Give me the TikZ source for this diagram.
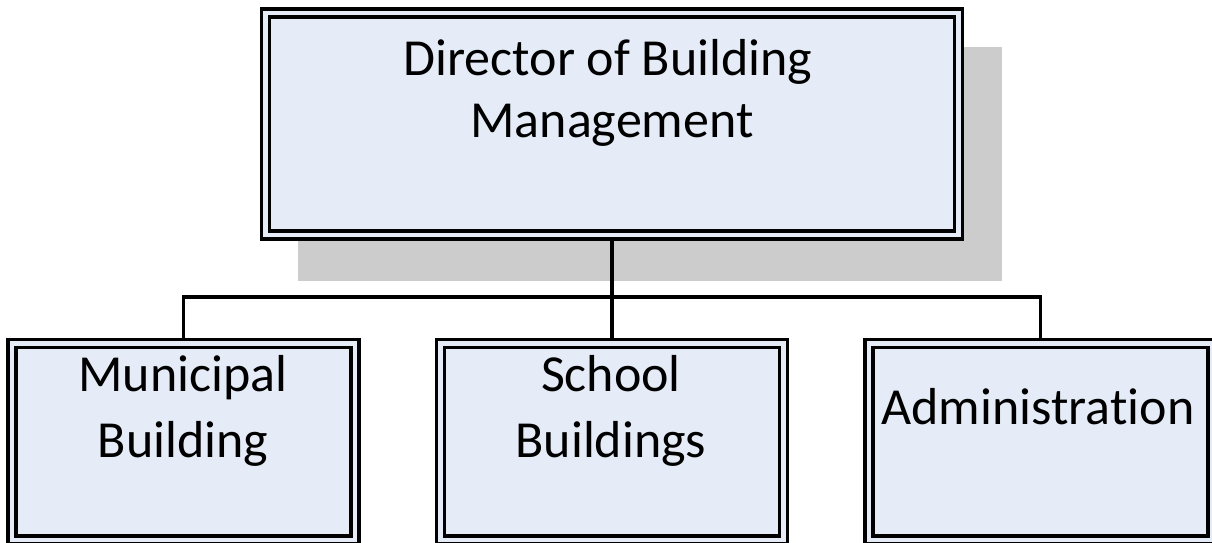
\documentclass[tikz,border=0pt]{standalone}
\usepackage{fontspec}
\setmainfont[Ligatures=NoCommon]{Carlito}
\definecolor{boxfill}{HTML}{E5ECF7}
\definecolor{shadowgray}{HTML}{CCCCCC}
\pgfdeclarelayer{background}
\pgfsetlayers{background,main}
\tikzset{
  orgbox/.style={rectangle, draw=black, line width=3.5pt, double=boxfill,
    double distance=4.5pt, fill=boxfill, outer sep=5.75pt, inner sep=0pt},
  conn/.style={draw=black, line width=3.2pt},
  lbl/.style={anchor=base, inner sep=0pt, font=\fontsize{52}{62}\selectfont}
}
\begin{document}
\begin{tikzpicture}[x=1pt,y=-1pt]
\path[use as bounding box] (0,0) rectangle (1212,543);
% boxes
\node[orgbox, minimum width=693pt, minimum height=222pt] (top) at (612,124) {};
\node[orgbox, minimum width=343pt, minimum height=196.5pt] (mun) at (183.5,441.75) {};
\node[orgbox, minimum width=343pt, minimum height=196.5pt] (sch) at (612,441.75) {};
\node[orgbox, minimum width=343pt, minimum height=196.5pt] (adm) at (1040.5,441.75) {};
% texts
\node[lbl] (t1) at (608,75) {Director of Building};
\node[lbl] (t2) at (612,137) {Management};
\node[lbl] (m1) at (183,391) {Municipal};
\node[lbl] (m2) at (183,457) {Building};
\node[lbl] (s1) at (611,391) {School};
\node[lbl] (s2) at (611,457) {Buildings};
\node[lbl] (a1) at (1038,424) {Administration};
% shadow and connectors
\begin{pgfonlayer}{background}
\fill[shadowgray] ([shift={(38pt,-40pt)}]top.north west) rectangle ([shift={(38pt,-40pt)}]top.south east);
\coordinate (bus) at (top.south |- 0,297);
\draw[conn] (top.south) -- (bus);
\draw[conn] (mun.north) |- (bus) -| (adm.north);
\draw[conn] (bus) -- (sch.north);
\end{pgfonlayer}
\end{tikzpicture}
\end{document}
